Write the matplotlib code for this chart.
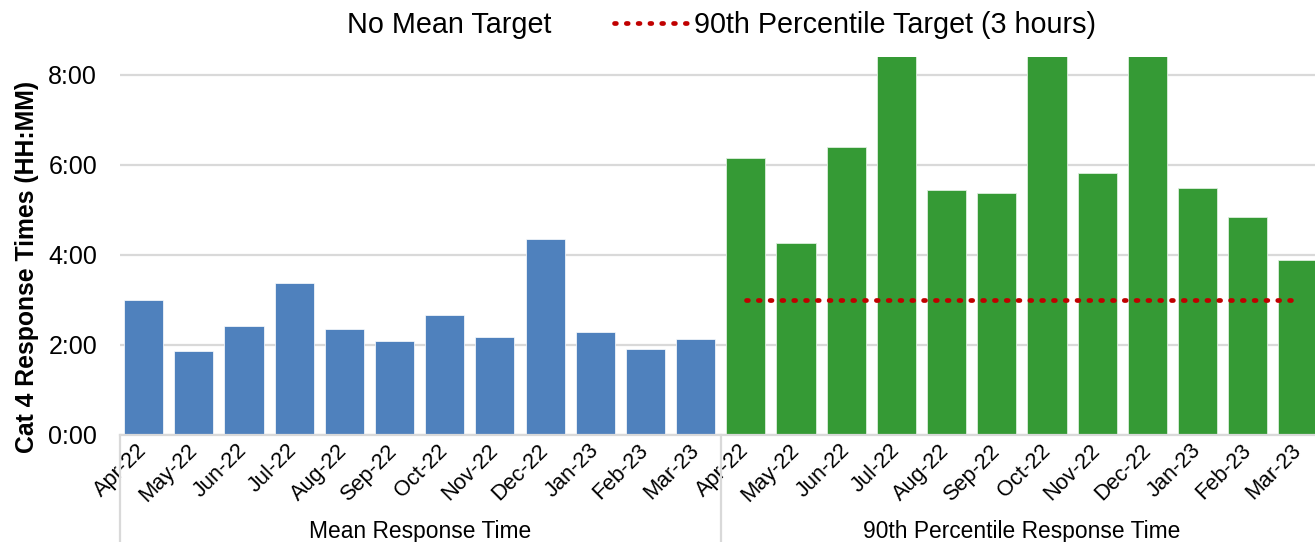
import numpy as np
import matplotlib.pyplot as plt
from matplotlib.lines import Line2D
from matplotlib.ticker import FuncFormatter
import matplotlib.transforms as mtransforms

plt.rcParams['font.family'] = ['Liberation Sans', 'DejaVu Sans']

# Data (hours)
months = ["Apr-22", "May-22", "Jun-22", "Jul-22", "Aug-22", "Sep-22",
          "Oct-22", "Nov-22", "Dec-22", "Jan-23", "Feb-23", "Mar-23"]
mean_times = [3.00, 1.87, 2.42, 3.38, 2.36, 2.09, 2.67, 2.18, 4.36, 2.29, 1.91, 2.13]
p90_times = [6.16, 4.27, 6.39, 9.10, 5.44, 5.37, 9.30, 5.82, 9.60, 5.48, 4.84, 3.90]
p90_target = [3.0] * 12
groups = ["Mean Response Time", "90th Percentile Response Time"]

blue = '#4F81BD'
green = '#359A35'
red = '#C00000'
grey = '#D9D9D9'

fig = plt.figure(figsize=(13.15, 5.42), dpi=100)
ax = fig.add_axes([120 / 1315, 1 - 435 / 542, 1 - 120 / 1315, (435 - 57) / 542])

n = len(months)
x_mean = np.arange(n)
x_p90 = np.arange(n) + n

ax.bar(x_mean, mean_times, width=0.78, color=blue, edgecolor='white', linewidth=0.5, zorder=2)
ax.bar(x_p90, p90_times, width=0.78, color=green, edgecolor='#DDEEDD', linewidth=0.6, zorder=2)
target_line, = ax.plot(x_p90, p90_target, linestyle=(0, (0.4, 2.1)), color=red,
                       linewidth=3.4, dash_capstyle='round', zorder=3)

ax.set_xlim(-0.47, 23.34)
ax.set_ylim(0, 8.4)
ax.set_yticks([0, 2, 4, 6, 8])
ax.yaxis.set_major_formatter(FuncFormatter(lambda v, p: f"{int(v)}:{int(round((v % 1) * 60)):02d}"))
ax.grid(axis='y', color=grey, linewidth=1.6, zorder=0)
ax.set_axisbelow(True)
for s in ['top', 'right', 'left']:
    ax.spines[s].set_visible(False)
ax.spines['bottom'].set_color(grey)
ax.spines['bottom'].set_linewidth(1.6)
ax.tick_params(axis='y', length=0, pad=16.5, labelsize=18)
ax.tick_params(axis='x', length=0, pad=9)

ax.set_xticks(np.concatenate([x_mean, x_p90]))
ax.set_xticklabels(months + months, rotation=45, ha='right', rotation_mode='anchor',
                   fontsize=15.7)
for lbl in ax.get_xticklabels():
    lbl.set_va('center')

# group separators and labels
trans = mtransforms.blended_transform_factory(ax.transData, ax.transAxes)
for xs in [-0.47, 11.5]:
    ax.plot([xs, xs], [0, -0.3], color=grey, linewidth=1.6, transform=trans, clip_on=False)
ax.text(5.5, -0.255, groups[0], transform=trans, ha='center', va='center', fontsize=16.4)
ax.text(17.5, -0.255, groups[1], transform=trans, ha='center', va='center', fontsize=16.4)

fig.text(27 / 1315, 1 - 267 / 542, "Cat 4 Response Times (HH:MM)", rotation=90,
         ha='center', va='center', fontsize=17.8, fontweight='bold')

blank = Line2D([], [], linestyle='none')
ax.legend([blank, target_line], ["No Mean Target", "90th Percentile Target (3 hours)"],
          ncol=2, loc='center', bbox_to_anchor=(681.5 / 1315, 1 - 25 / 542),
          bbox_transform=fig.transFigure, frameon=False, fontsize=20.7,
          handlelength=2.6, handletextpad=0.17, columnspacing=2.2)

fig.savefig("out.png", dpi=100)
